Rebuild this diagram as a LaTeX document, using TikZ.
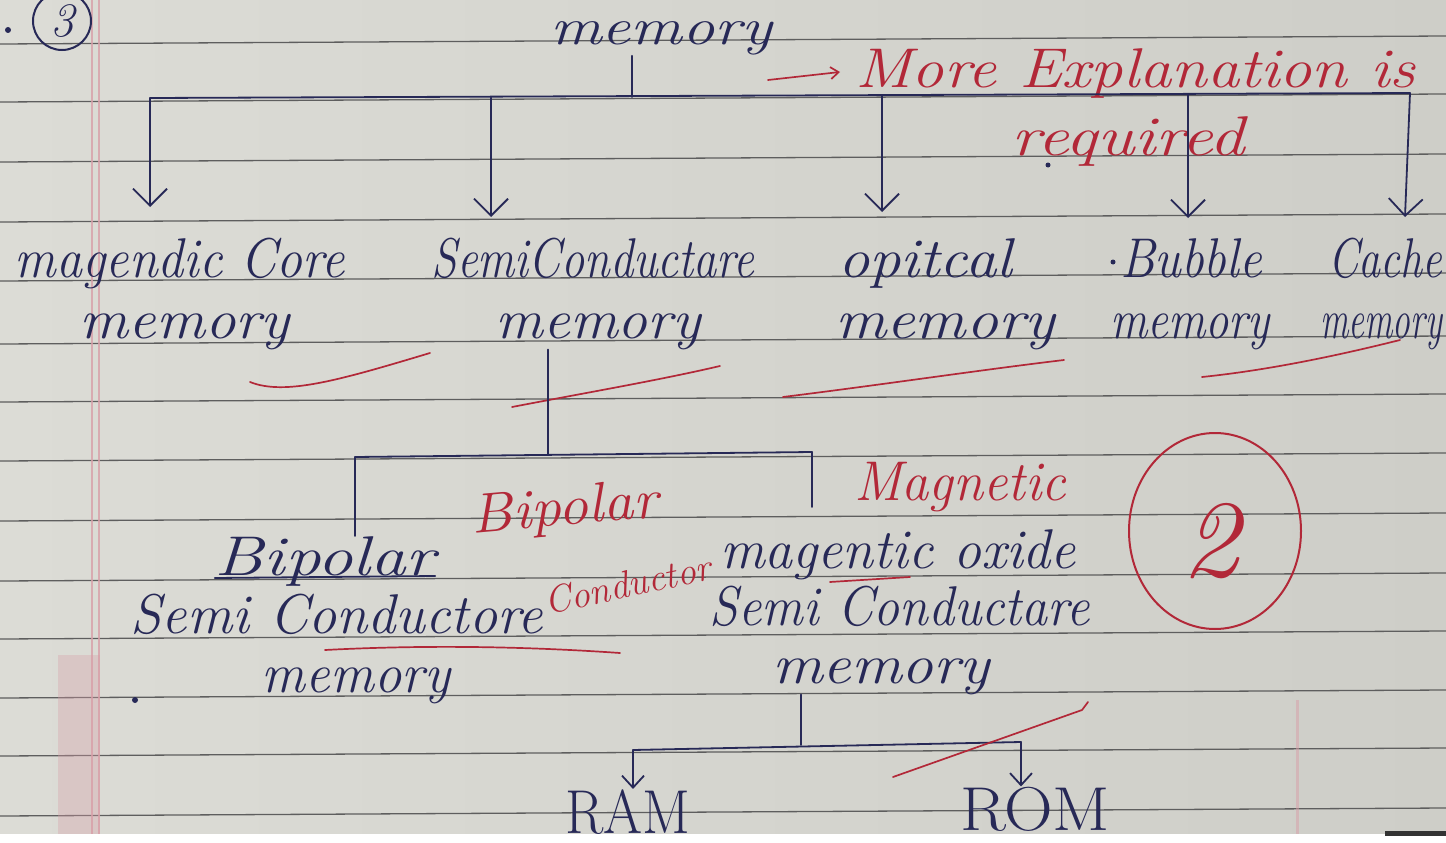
\documentclass[tikz,border=0pt]{standalone}
\usepackage{fontspec}
\usepackage{graphicx}
\usetikzlibrary{arrows.meta}
\definecolor{paperL}{HTML}{DCDCD6}
\definecolor{paperR}{HTML}{CECEC8}
\definecolor{ink}{HTML}{272957}
\definecolor{redink}{HTML}{B22838}
\definecolor{ruling}{HTML}{5E5E5E}
\definecolor{marginpink}{HTML}{D89FA8}
\newcommand\HW[2]{\resizebox{#1pt}{\height}{#2}}
\begin{document}
\begin{tikzpicture}[x=1pt,y=-1pt,
  hand/.style={font=\fontsize{56}{60}\selectfont\itshape, text=ink, inner sep=0pt, anchor=base},
  redhand/.style={hand, text=redink},
  link/.style={draw=ink, line width=1.8pt, line cap=round},
  arr/.style={link, -{Straight Barb[length=17pt,width=34pt]}},
  sarr/.style={link, -{Straight Barb[length=12pt,width=22pt]}},
  redmark/.style={draw=redink, line width=1.7pt, line cap=round},
  ruleline/.style={draw=ruling, line width=1.3pt},
]
\useasboundingbox (0,0) rectangle (1446,843);
\begin{scope}
\clip (0,0) rectangle (1446,843);
% paper
\shade[left color=paperL, right color=paperR] (0,0) rectangle (1446,843);
\foreach \y in {40,98,158,218,277,340,398,457,517,577,635,694,752,812}
  \draw[ruleline] (0,\y+4) -- (1446,\y-4);
\draw[marginpink, line width=1.4pt, opacity=0.8] (92,0) -- (92,843);
\draw[marginpink, line width=1.4pt, opacity=0.8] (99,0) -- (99,843);
\fill[marginpink, opacity=0.35] (58,655) rectangle (100,843);
\draw[marginpink, line width=3pt, opacity=0.5] (1297,700) -- (1297,843);

% question number
\fill[ink] (8,30) circle (3pt);
\node[draw=ink, circle, line width=2pt, minimum size=58pt, inner sep=0pt,
      font=\fontsize{48}{48}\selectfont\itshape, text=ink] (qno) at (62,21) {3};

% level 1
\node[hand, font=\fontsize{52}{56}\selectfont\itshape] (root) at (661,45) {\HW{222}{memory}};
\node[redhand, anchor=base west] (note1) at (855,88) {\HW{560}{More Explanation is}};
\node[redhand] (note2) at (1128,155) {\HW{233}{required}};
\coordinate (ra) at (768,80);
\coordinate (rb) at (840,72);
\draw[redmark, -{Straight Barb[length=8pt,width=12pt]}] (ra) -- (rb);
\fill[ink] (1048,165) circle (2.5pt);

% main bar
\coordinate (rootfoot) at (632,97);
\coordinate (bL) at (150,98);
\coordinate (j2) at (491,97.5);
\coordinate (j3) at (882,96);
\coordinate (j4) at (1188,95);
\coordinate (bR) at (1410,93);
\coordinate (t1) at (150,207);
\coordinate (t2) at (491,217);
\coordinate (t3) at (882,212);
\coordinate (t4) at (1188,218);
\coordinate (t5) at (1405,217);
\draw[link] (root.south -| rootfoot) -- (rootfoot);
\draw[link] (bL) -- (bR);
\draw[arr] (bL) -- (t1);
\draw[arr] (j2) -- (t2);
\draw[arr] (j3) -- (t3);
\draw[arr] (j4) -- (t4);
\draw[arr] (bR) -- (t5);

% level 2
\node[hand] (mc1) at (180,277) {\HW{330}{magendic Core}};
\node[hand] (mc2) at (185,338) {\HW{210}{memory}};
\node[hand] (sc1) at (593,277) {\HW{323}{SemiConductare}};
\node[hand] (sc2) at (598,338) {\HW{205}{memory}};
\node[hand] (op1) at (925,277) {\HW{174}{opitcal}};
\node[hand] (op2) at (945,338) {\HW{220}{memory}};
\fill[ink] (1113,262) circle (2.5pt);
\node[hand] (bu1) at (1191,277) {\HW{142}{Bubble}};
\node[hand] (bu2) at (1190,338) {\HW{160}{memory}};
\node[hand, anchor=base west] (ca1) at (1328,277) {\HW{114}{Cache}};
\node[hand, anchor=base west] (ca2) at (1320,338) {\HW{122}{memory}};

% red ticks under level 2
\draw[redmark] (250,382) .. controls (285,396) and (340,380) .. (430,353);
\draw[redmark] (512,407) .. controls (590,392) and (660,380) .. (720,366);
\draw[redmark] (783,397) .. controls (880,385) and (980,370) .. (1064,360);
\draw[redmark] (1202,377) .. controls (1270,370) and (1340,355) .. (1400,340);

% level 3
\coordinate (s3) at (548,455);
\coordinate (b3L) at (355,457);
\coordinate (b3R) at (812,452);
\coordinate (moTop) at (812,507);
\draw[link] (sc2.south -| s3) -- (s3);
\draw[link] (b3L) -- (b3R);

\node[hand] (bp1) at (325,575) {\HW{220}{Bipolar}};
\node[hand] (bp2) at (337,633) {\HW{412}{Semi Conductore}};
\node[hand] (bp3) at (356,692) {\HW{188}{memory}};
\draw[link] (b3L) -- (b3L |- bp1.north);
\draw[link] (b3R) -- (moTop);
\draw[link] ([yshift=-3pt]bp1.base west) -- ([yshift=-1pt]bp1.base east);
\coordinate (ul1) at (325,650);
\coordinate (ul2) at (620,653);
\draw[redmark] (ul1) .. controls (420,645) and (520,646) .. (ul2);

\node[redhand, rotate=5] (rbp) at (566,525) {\HW{187}{Bipolar}};
\node[redhand, rotate=12, font=\fontsize{38}{42}\selectfont\itshape] (rcd) at (630,597) {Conductor};
\node[redhand] (mg) at (960,500) {\HW{212}{Magnetic}};

\node[hand] (mo1) at (898,568) {\HW{356}{magentic oxide}};
\node[hand] (mo2) at (900,625) {\HW{380}{Semi Conductare}};
\node[hand] (mo3) at (881,683) {\HW{218}{memory}};
\coordinate (mu1) at (830,582);
\coordinate (mu2) at (910,577);
\draw[redmark] (mu1) -- (mu2);

% level 4
\coordinate (j6) at (801,745);
\coordinate (b4L) at (633,750);
\coordinate (b4R) at (1021,742);
\draw[link] (mo3.south -| j6) -- (j6);
\draw[link] (b4L) -- (b4R);
\node[hand, font=\fontsize{62}{62}\selectfont] (ram) at (628,833) {\HW{125}{RAM}};
\node[hand, font=\fontsize{62}{62}\selectfont] (rom) at (1035,830) {\HW{150}{ROM}};
\draw[sarr] (b4L) -- (b4L |- ram.north);
\draw[sarr] (b4R) -- (b4R |- rom.north);
\coordinate (sl1) at (893,777);
\coordinate (sl2) at (1082,710);
\coordinate (sl3) at (1088,702);
\draw[redmark] (sl1) -- (sl2) -- (sl3);
\fill[ink] (135,700) circle (3pt);

% circled 2
\node[redhand, anchor=center, font=\fontsize{110}{110}\selectfont\itshape] (two) at (1210,541) {\HW{58}{2}};
\draw[redmark, line width=2pt] (1215,531) ellipse [x radius=86pt, y radius=98pt];

% bottom strip
\fill[white] (0,834) rectangle (1446,843);
\fill[black!80] (1385,831) rectangle (1446,836);
\end{scope}
\end{tikzpicture}
\end{document}
